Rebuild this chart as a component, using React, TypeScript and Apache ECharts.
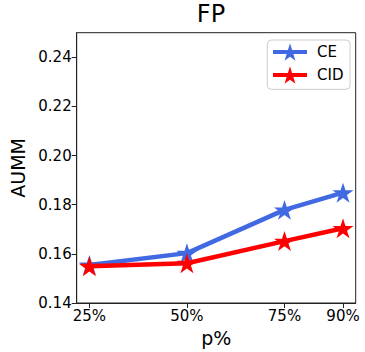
import React, { useEffect, useRef } from "react";
import * as echarts from "echarts";

const xValues = [25, 50, 75, 90];
const ceValues = [0.1555, 0.1603, 0.1779, 0.1849];
const cidValues = [0.155, 0.1562, 0.1652, 0.1704];
const yTicks = [0.14, 0.16, 0.18, 0.2, 0.22, 0.24];

const STAR =
  "path://M50 0 L61.17 34.63 L97.55 34.55 L68.07 55.87 L79.39 90.45 L50 69 L20.61 90.45 L31.93 55.87 L2.45 34.55 L38.83 34.63 Z";

export default function App() {
  const ref = useRef<HTMLDivElement>(null);
  useEffect(() => {
    const chart = echarts.init(ref.current!, null, { renderer: "svg" });
    const font = "DejaVu Sans";
    chart.setOption({
      animation: false,
      textStyle: { fontFamily: font },
      title: {
        text: "FP",
        left: 211,
        top: 0,
        padding: 0,
        textAlign: "center",
        textStyle: {
          fontSize: 24,
          lineHeight: 27,
          fontWeight: "normal",
          color: "#000",
          fontFamily: font,
        },
      },
      legend: {
        orient: "vertical",
        left: 267.3,
        top: 40,
        padding: [3.2, 6.6, 5.5, 3.7],
        itemWidth: 34,
        itemHeight: 22,
        itemGap: 5.4,
        borderColor: "#ccc",
        borderWidth: 1,
        borderRadius: 4,
        lineStyle: { width: 4 },
        textStyle: { fontSize: 15, color: "#000", fontFamily: font, padding: [0, 0, 0, 5] },
        data: ["CE", "CID"],
      },
      grid: {
        left: 76.7,
        right: 9.3,
        top: 32.7,
        bottom: 48,
        show: true,
        borderColor: "#222",
        borderWidth: 1,
        containLabel: false,
      },
      xAxis: {
        type: "value",
        min: 21.75,
        max: 93.25,
        name: "p%",
        nameLocation: "middle",
        nameGap: 25,
        nameTextStyle: { fontSize: 19, color: "#000", fontFamily: font },
        axisLine: { show: true, lineStyle: { color: "#222" } },
        axisTick: { show: true, length: 5, lineStyle: { color: "#222" }, customValues: xValues },
        axisLabel: {
          fontSize: 15,
          color: "#000",
          margin: 5,
          customValues: xValues,
          formatter: (v: number) => `${v}%`,
        },
        splitLine: { show: false },
      },
      yAxis: {
        type: "value",
        min: 0.14,
        max: 0.25,
        name: "AUMM",
        nameLocation: "middle",
        nameGap: 44,
        nameTextStyle: { fontSize: 19, color: "#000", fontFamily: font },
        axisLine: { show: true, lineStyle: { color: "#222" } },
        axisTick: { show: true, length: 5, lineStyle: { color: "#222" }, customValues: yTicks },
        axisLabel: {
          fontSize: 15,
          color: "#000",
          margin: 5,
          customValues: yTicks,
          formatter: (v: number) => v.toFixed(2),
        },
        splitLine: { show: false },
      },
      series: [
        {
          name: "CE",
          type: "line",
          data: xValues.map((x, i) => [x, ceValues[i]]),
          symbol: STAR,
          symbolSize: 21,
          symbolKeepAspect: true,
          lineStyle: { width: 4.5, color: "#4169E1" },
          itemStyle: { color: "#4169E1" },
          z: 2,
        },
        {
          name: "CID",
          type: "line",
          data: xValues.map((x, i) => [x, cidValues[i]]),
          symbol: STAR,
          symbolSize: 21,
          symbolKeepAspect: true,
          lineStyle: { width: 4.5, color: "#FF0000" },
          itemStyle: { color: "#FF0000" },
          z: 3,
        },
      ],
    });
    return () => chart.dispose();
  }, []);
  return (
    <div
      ref={ref}
      style={{ position: "absolute", left: 0, top: 0, width: 365, height: 352 }}
    />
  );
}
